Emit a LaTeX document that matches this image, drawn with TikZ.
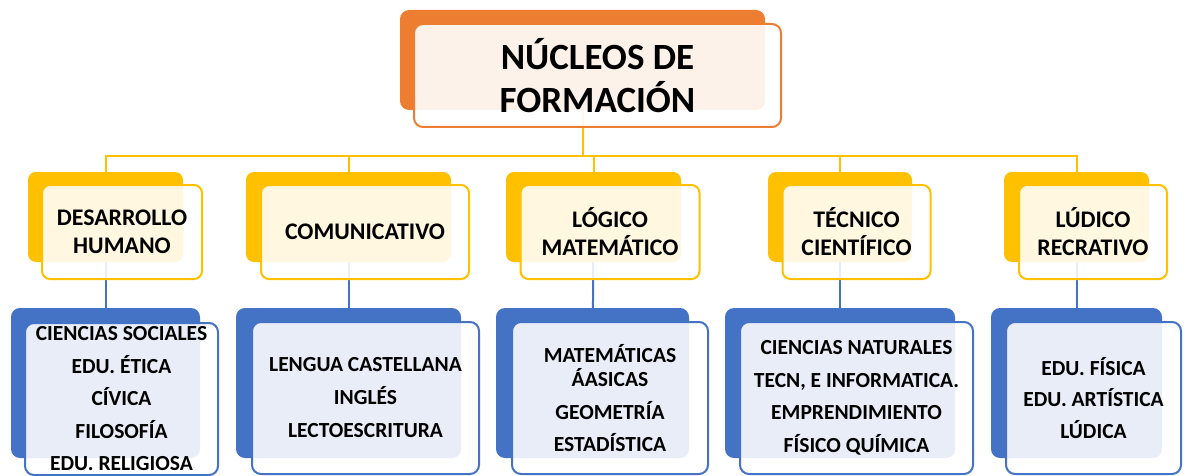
\documentclass[tikz,border=0pt]{standalone}
\usepackage{fontspec}
\setmainfont{Carlito}
\usepackage{xcolor}
\definecolor{coreorange}{HTML}{ED7D31}
\definecolor{areayellow}{HTML}{FFC000}
\definecolor{subjblue}{HTML}{4472C4}
\pgfdeclarelayer{links}
\pgfdeclarelayer{backs}
\pgfsetlayers{links,backs,main}

\begin{document}
\begin{tikzpicture}[x=1pt, y=-1pt, every node/.style={inner sep=0pt, align=center}]

    % Styles for the stacked boxes and the connectors
    \tikzset{
        headback/.style={fill=coreorange, rounded corners=9pt, minimum width=365pt, minimum height=100pt},
        headfront/.style={draw=coreorange, line width=2pt, fill=white, fill opacity=0.9, text opacity=1, rounded corners=9pt, font=\fontsize{37}{43}\selectfont\bfseries},
        areaback/.style={fill=areayellow, rounded corners=8pt, minimum height=90pt},
        areafront/.style={draw=areayellow, line width=2pt, fill=white, fill opacity=0.88, text opacity=1, rounded corners=8pt, minimum height=94pt, font=\fontsize{23.8}{28}\selectfont\bfseries},
        subjback/.style={fill=subjblue, rounded corners=9pt, minimum height=150pt},
        subjfront/.style={draw=subjblue, line width=2pt, fill=white, fill opacity=0.88, text opacity=1, rounded corners=9pt, minimum height=152pt, font=\fontsize{21.5}{24}\selectfont\bfseries},
        yline/.style={draw=areayellow, line width=2pt},
        bline/.style={draw=subjblue, line width=2pt}
    }

    \useasboundingbox (0,0) rectangle (1188,476);

    % Solid back plates
    \begin{pgfonlayer}{backs}
        \node[headback] (coreback) at (582.5,60) {};
        \node[areaback, minimum width=155pt] (humanback) at (105.5,217) {};
        \node[areaback, minimum width=205pt] (comuback) at (348.5,217) {};
        \node[areaback, minimum width=175pt] (logicback) at (593.5,217) {};
        \node[areaback, minimum width=144pt] (tecback) at (840,217) {};
        \node[areaback, minimum width=145pt] (ludback) at (1076.5,217) {};
        \node[subjback, minimum width=189pt] (humansubjback) at (105.5,383) {};
        \node[subjback, minimum width=225pt] (comusubjback) at (348.5,383) {};
        \node[subjback, minimum width=193pt] (logicsubjback) at (592.5,383) {};
        \node[subjback, minimum width=230pt] (tecsubjback) at (840,383) {};
        \node[subjback, minimum width=171pt] (ludsubjback) at (1076.5,383) {};
    \end{pgfonlayer}

    % Title
    \node[headfront, minimum width=367pt, minimum height=103pt] (core) at ([shift={(15,15.5)}]coreback) {N\'UCLEOS DE\\FORMACI\'ON};

    % Formation areas
    \node[areafront, minimum width=160pt] (human) at ([shift={(16.5,15)}]humanback) {DESARROLLO\\HUMANO};
    \node[areafront, minimum width=208pt] (comu) at ([shift={(16.5,15)}]comuback) {COMUNICATIVO};
    \node[areafront, minimum width=179pt] (logic) at ([shift={(16.5,15)}]logicback) {LÓGICO\\MATEMÁTICO};
    \node[areafront, minimum width=148pt] (tec) at ([shift={(16.5,15)}]tecback) {TÉCNICO\\CIENTÍFICO};
    \node[areafront, minimum width=148pt] (lud) at ([shift={(16.5,15)}]ludback) {LÚDICO\\RECRATIVO};

    % Subjects of each area
    \node[subjfront, minimum width=193pt] (humansubj) at ([shift={(16,16)}]humansubjback) {CIENCIAS SOCIALES\\[8.5pt]EDU. ÉTICA\\[8.5pt]CÍVICA\\[8.5pt]FILOSOFÍA\\[8.5pt]EDU. RELIGIOSA};
    \node[subjfront, minimum width=227pt] (comusubj) at ([shift={(17,15)}]comusubjback) {LENGUA CASTELLANA\\[9pt]INGLÉS\\[9pt]LECTOESCRITURA};
    \node[subjfront, minimum width=196pt] (logicsubj) at ([shift={(17.5,15)}]logicsubjback) {MATEMÁTICAS\\ÁASICAS\\[9pt]GEOMETRÍA\\[8pt]ESTADÍSTICA};
    \node[subjfront, minimum width=233pt] (tecsubj) at ([shift={(16.5,15)}]tecsubjback) {CIENCIAS NATURALES\\[8.5pt]TECN, E INFORMATICA.\\[8.5pt]EMPRENDIMIENTO\\[8.5pt]FÍSICO QUÍMICA};
    \node[subjfront, minimum width=175pt] (ludsubj) at ([shift={(17,15)}]ludsubjback) {EDU. FÍSICA\\[7pt]EDU. ARTÍSTICA\\[8pt]LÚDICA};

    % Connectors behind the boxes
    \begin{pgfonlayer}{links}
        \draw[yline] (coreback) -- ++(0,96) -| (humanback);
        \draw[yline] (coreback) -- ++(0,96) -| (comuback);
        \draw[yline] (coreback) -- ++(0,96) -| (logicback);
        \draw[yline] (coreback) -- ++(0,96) -| (tecback);
        \draw[yline] (coreback) -- ++(0,96) -| (ludback);
        \draw[bline] (humanback) -- (humansubjback);
        \draw[bline] (comuback) -- (comusubjback);
        \draw[bline] (logicback) -- (logicsubjback);
        \draw[bline] (tecback) -- (tecsubjback);
        \draw[bline] (ludback) -- (ludsubjback);
    \end{pgfonlayer}

\end{tikzpicture}
\end{document}
